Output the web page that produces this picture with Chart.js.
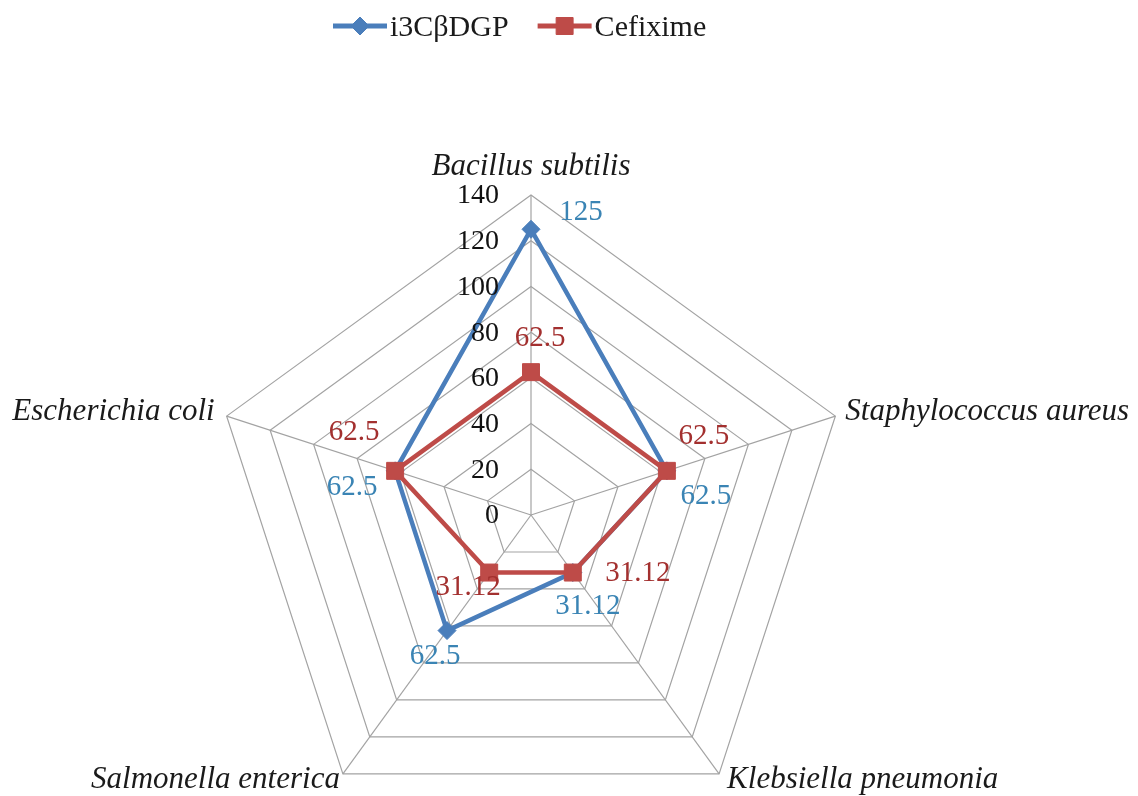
<!DOCTYPE html>
<html>
<head>
<meta charset="utf-8">
<script src="https://cdn.jsdelivr.net/npm/chart.js@4.4.1/dist/chart.umd.min.js"></script>
<style>
  html, body { margin: 0; padding: 0; background: #fff; overflow: hidden; }
  #wrap { position: relative; width: 1138px; height: 840px; }
</style>
</head>
<body>
<div id="wrap"><canvas id="c" width="1138" height="840"></canvas></div>
<script>
// Test organisms (one spoke each)
const organisms = ['Bacillus subtilis', 'Staphylococcus aureus', 'Klebsiella pneumonia', 'Salmonella enterica', 'Escherichia coli'];
// MIC values per organism
const i3CbDGP = [125, 62.5, 31.12, 62.5, 62.5];
const cefixime = [62.5, 62.5, 31.12, 31.12, 62.5];
// Radial axis ticks
const tickValues = [0, 20, 40, 60, 80, 100, 120, 140];
const seriesNames = ['i3CβDGP', 'Cefixime'];

const SERIF = '"Liberation Serif", "Times New Roman", serif';
const BLUE = '#4a7ebb';
const RED = '#be4b48';

// value label placement (centre offset from its point) and colour per series
const valueLabelStyle = [
  { color: '#3a84b4', offsets: [[50, -17], [39, 26], [15, 34], [-12, 26], [-43, 17]] },
  { color: '#a3302f', offsets: [[9, -34], [37, -34], [65, 1], [-21, 15], [-41, -38]] }
];

// spoke label anchoring around each outer vertex
const spokeLabelStyle = [
  { align: 'center', dx: 0, dy: -28 },
  { align: 'left', dx: 10, dy: -4 },
  { align: 'left', dx: 8, dy: 6 },
  { align: 'right', dx: -3, dy: 6 },
  { align: 'right', dx: -12, dy: -4 }
];

const radarDecor = {
  id: 'radarDecor',
  afterDatasetsDraw(chart) {
    const ctx = chart.ctx;
    const r = chart.scales.r;
    ctx.save();

    // radial tick labels, right-aligned left of the vertical spoke
    ctx.font = '28px ' + SERIF;
    ctx.fillStyle = '#111';
    ctx.textAlign = 'right';
    ctx.textBaseline = 'middle';
    r.ticks.forEach(t => {
      const y = r.yCenter - r.getDistanceFromCenterForValue(t.value);
      ctx.fillText(String(t.value), r.xCenter - 32, y + 1);
    });

    // spoke (category) labels
    ctx.font = 'italic 31px ' + SERIF;
    ctx.fillStyle = '#1a1a1a';
    chart.data.labels.forEach((lab, i) => {
      const p = r.getPointPosition(i, r.drawingArea);
      const s = spokeLabelStyle[i];
      ctx.textAlign = s.align;
      ctx.fillText(lab, p.x + s.dx, p.y + s.dy);
    });

    // value labels
    ctx.font = '29px ' + SERIF;
    ctx.textAlign = 'center';
    chart.data.datasets.forEach((ds, di) => {
      const meta = chart.getDatasetMeta(di);
      const st = valueLabelStyle[di];
      ctx.fillStyle = st.color;
      meta.data.forEach((el, i) => {
        const o = st.offsets[i];
        ctx.fillText(String(ds.data[i]), el.x + o[0], el.y + o[1]);
      });
    });
    ctx.restore();
  },
  afterDraw(chart) {
    // legend: line with marker, then series name
    const ctx = chart.ctx;
    ctx.save();
    ctx.font = '30px ' + SERIF;
    ctx.textBaseline = 'middle';
    ctx.textAlign = 'left';
    let x = 333;
    const y = 26;
    chart.data.datasets.forEach(ds => {
      ctx.strokeStyle = ds.borderColor;
      ctx.lineWidth = 5;
      ctx.beginPath();
      ctx.moveTo(x, y);
      ctx.lineTo(x + 54, y);
      ctx.stroke();
      ctx.fillStyle = ds.pointBackgroundColor;
      ctx.strokeStyle = ds.pointBorderColor;
      ctx.lineWidth = 1;
      Chart.helpers.drawPoint(ctx, {
        pointStyle: ds.pointStyle,
        radius: ds.pointRadius,
        rotation: 0,
        borderWidth: 1
      }, x + 27, y);
      ctx.fillStyle = '#1a1a1a';
      ctx.fillText(ds.label, x + 57, y + 2);
      x += 57 + ctx.measureText(ds.label).width + 29;
    });
    ctx.restore();
  }
};

new Chart(document.getElementById('c'), {
  type: 'radar',
  data: {
    labels: organisms,
    datasets: [
      {
        label: seriesNames[0],
        data: i3CbDGP,
        borderColor: BLUE,
        backgroundColor: 'rgba(0,0,0,0)',
        pointBackgroundColor: BLUE,
        pointBorderColor: BLUE,
        pointStyle: 'rectRot',
        pointRadius: 9,
        pointBorderWidth: 1,
        borderWidth: 4.5,
        fill: false,
        order: 1
      },
      {
        label: seriesNames[1],
        data: cefixime,
        borderColor: RED,
        backgroundColor: 'rgba(0,0,0,0)',
        pointBackgroundColor: RED,
        pointBorderColor: RED,
        pointStyle: 'rect',
        pointRadius: 12,
        pointBorderWidth: 1,
        borderWidth: 4.5,
        fill: false,
        order: 0
      }
    ]
  },
  options: {
    responsive: false,
    devicePixelRatio: 1,
    animation: false,
    layout: { padding: { left: 211, right: 287, top: 195, bottom: 5 } },
    elements: { line: { tension: 0 } },
    plugins: {
      legend: { display: false },
      tooltip: { enabled: false }
    },
    scales: {
      r: {
        min: 0,
        max: 140,
        afterBuildTicks: s => { s.ticks = tickValues.map(v => ({ value: v })); },
        ticks: { display: false, stepSize: 20 },
        grid: { color: '#a3a3a3', lineWidth: 1.2 },
        angleLines: { color: '#a3a3a3', lineWidth: 1.2 },
        pointLabels: { display: false }
      }
    }
  },
  plugins: [radarDecor]
});
</script>
</body>
</html>
